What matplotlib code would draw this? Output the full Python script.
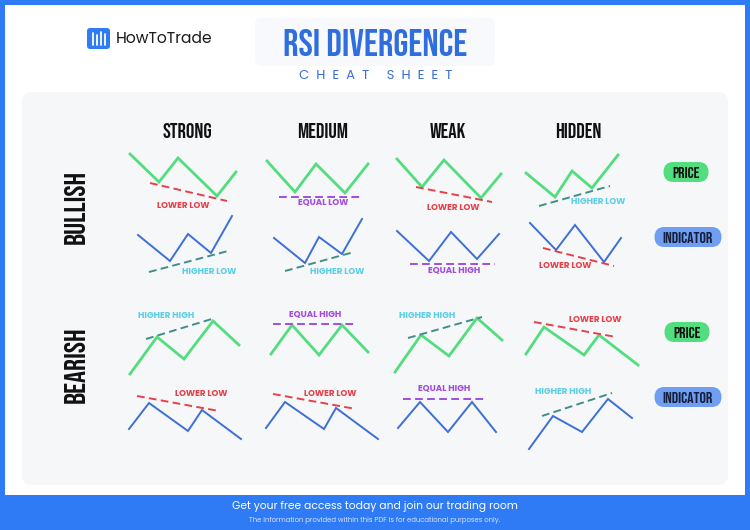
import matplotlib
matplotlib.use("Agg")
import matplotlib.pyplot as plt
from matplotlib.patches import FancyBboxPatch, Rectangle

# ---- colours ----
FRAME = "#2f7bf5"
TITLE = "#2f6ede"
GREEN = "#52dd7e"
BLUE = "#3d6fd6"
RED = "#e5414b"
PURPLE = "#a24de0"
TEAL = "#3f8f88"
CYAN = "#5ccfe6"

HEAD = ["Bebas Neue", "DejaVu Sans"]
BODY = ["Poppins", "Lato", "DejaVu Sans"]

columns = ["STRONG", "MEDIUM", "WEAK", "HIDDEN"]
column_x = [187, 323, 448, 578]
rows = ["BULLISH", "BEARISH"]
row_y = [207, 365]

# ---- zigzags (pixel coords of the cheat sheet, 750x530) ----
bull_price_x = [[130, 159, 178, 217, 236], [267, 295, 316, 345, 368],
                [397, 422, 444, 481, 501], [526, 555, 572, 592, 618]]
bull_price_y = [[154, 182, 158, 196, 172], [161, 192, 164, 193, 164],
                [159, 187, 160, 198, 174], [173, 197, 171, 188, 155]]
bull_ind_x = [[138, 170, 188, 211, 232], [274, 305, 319, 342, 362],
              [397, 429, 451, 477, 499], [530, 556, 575, 604, 621]]
bull_ind_y = [[235, 261, 234, 253, 216], [238, 263, 237, 254, 219],
              [231, 261, 232, 259, 234], [223, 250, 225, 262, 238]]
bear_price_x = [[130, 157, 184, 213, 239], [271, 292, 319, 342, 368],
                [395, 421, 449, 477, 502], [526, 544, 584, 599, 638]]
bear_price_y = [[374, 337, 359, 321, 345], [354, 325, 355, 325, 352],
                [372, 335, 356, 318, 340], [354, 327, 355, 335, 365]]
bear_ind_x = [[129, 149, 188, 202, 241], [266, 285, 324, 336, 378],
              [398, 420, 448, 472, 496], [529, 553, 582, 608, 632]]
bear_ind_y = [[429, 403, 431, 410, 439], [428, 402, 429, 408, 439],
              [428, 402, 432, 402, 432], [449, 416, 432, 399, 418]]

# ---- divergence guides: x0, y0, x1, y1, colour ----
guides = [
    (150, 183, 227, 201, RED), (279, 197, 361, 197, PURPLE),
    (416, 187, 492, 202, RED), (539, 206, 610, 186, TEAL),
    (149, 272, 228, 251, TEAL), (285, 271, 354, 252, TEAL),
    (410, 264, 495, 264, PURPLE), (543, 248, 614, 266, RED),
    (146, 339, 215, 318, TEAL), (273, 324, 357, 324, PURPLE),
    (408, 338, 482, 317, TEAL), (534, 322, 616, 337, RED),
    (137, 396, 219, 411, RED), (273, 394, 356, 409, RED),
    (403, 399, 486, 399, PURPLE), (542, 416, 612, 393, TEAL),
]
guide_labels = [
    ("LOWER LOW", 183, 206, RED), ("EQUAL LOW", 323, 203, PURPLE),
    ("LOWER LOW", 453, 208, RED), ("HIGHER LOW", 598, 202, CYAN),
    ("HIGHER LOW", 209, 271, CYAN), ("HIGHER LOW", 337, 271, CYAN),
    ("EQUAL HIGH", 454, 271, PURPLE), ("LOWER LOW", 565, 266, RED),
    ("HIGHER HIGH", 166, 316, CYAN), ("EQUAL HIGH", 315, 314, PURPLE),
    ("HIGHER HIGH", 427, 315, CYAN), ("LOWER LOW", 595, 320, RED),
    ("LOWER LOW", 201, 394, RED), ("LOWER LOW", 330, 393, RED),
    ("EQUAL HIGH", 444, 389, PURPLE), ("HIGHER HIGH", 563, 392, CYAN),
]

badges = [("PRICE", 686, 172, 45, GREEN, "#111111"),
          ("INDICATOR", 688, 237, 67, "#6f9ef2", "#14203a"),
          ("PRICE", 687, 332, 45, GREEN, "#111111"),
          ("INDICATOR", 688, 397, 67, "#6f9ef2", "#14203a")]

fig = plt.figure(figsize=(7.5, 5.3), dpi=100)
fig.patch.set_facecolor(FRAME)
ax = fig.add_axes([0, 0, 1, 1])
ax.set_xlim(0, 750)
ax.set_ylim(530, 0)
ax.axis("off")

# white sheet + light panel
ax.add_patch(Rectangle((5, 5), 740, 490, facecolor="white", edgecolor="none"))
ax.add_patch(FancyBboxPatch((22, 92), 706, 393, boxstyle="round,pad=0,rounding_size=10",
                            facecolor="#f6f7f9", edgecolor="none"))
ax.add_patch(FancyBboxPatch((255, 18), 240, 48, boxstyle="round,pad=0,rounding_size=6",
                            facecolor="#f8f9fc", edgecolor="none"))

# logo
ax.add_patch(FancyBboxPatch((87, 28), 23, 21, boxstyle="round,pad=0,rounding_size=3",
                            facecolor=FRAME, edgecolor="none"))
for bx, top in zip([92.5, 96.5, 100.5, 104.5], [33, 35, 32, 34]):
    ax.plot([bx, bx], [top, 45], color="white", lw=1.3, solid_capstyle="round")
ax.text(116, 39, "HowToTrade", fontsize=11.2, family=BODY, color="#1b1b1b",
        va="center", ha="left")

ax.text(375, 43, "RSI DIVERGENCE", fontsize=27.5, family=HEAD, color=TITLE,
        ha="center", va="center")
ax.text(376, 76, "C  H  E  A  T     S  H  E  E  T", fontsize=9.5, family=BODY,
        color="#3a6fd8", ha="center", va="center")

for name, cx in zip(columns, column_x):
    ax.text(cx, 131, name, fontsize=15, family=HEAD, color="#111111", ha="center",
            va="center", fontweight="bold")
for name, cy in zip(rows, row_y):
    ax.text(74, cy, name, fontsize=21.5, family=HEAD, color="#111111", ha="center",
            va="center", rotation=90, fontweight="bold")

# price / indicator lines
for xs_list, ys_list, col, lw in [(bull_price_x, bull_price_y, GREEN, 2.0),
                                  (bull_ind_x, bull_ind_y, BLUE, 1.4),
                                  (bear_price_x, bear_price_y, GREEN, 2.0),
                                  (bear_ind_x, bear_ind_y, BLUE, 1.4)]:
    for xs, ys in zip(xs_list, ys_list):
        ax.plot(xs, ys, color=col, lw=lw, solid_joinstyle="miter")

for x0, y0, x1, y1, col in guides:
    ax.plot([x0, x1], [y0, y1], color=col, lw=1.4, ls=(0, (4, 2.2)))

for txt, lx, ly, col in guide_labels:
    ax.text(lx, ly, txt, fontsize=6.3, family=BODY, color=col, ha="center",
            va="center", fontweight="bold")

for txt, bx, by, bw, fc, tc in badges:
    ax.add_patch(FancyBboxPatch((bx - bw / 2, by - 10), bw, 20,
                                boxstyle="round,pad=0,rounding_size=10",
                                facecolor=fc, edgecolor="none"))
    ax.text(bx, by + 0.5, txt, fontsize=11.5, family=HEAD, color=tc, ha="center",
            va="center", fontweight="bold")

# footer
ax.text(375, 507, "Get your free access today and join our trading room", fontsize=7.7,
        family=BODY, color="white", ha="center", va="center")
ax.text(375, 520, "The information provided within this PDF is for educational purposes only.",
        fontsize=5.0, family=BODY, color="#d6e4ff", ha="center", va="center")

fig.savefig("out.png", dpi=100, facecolor=FRAME)
